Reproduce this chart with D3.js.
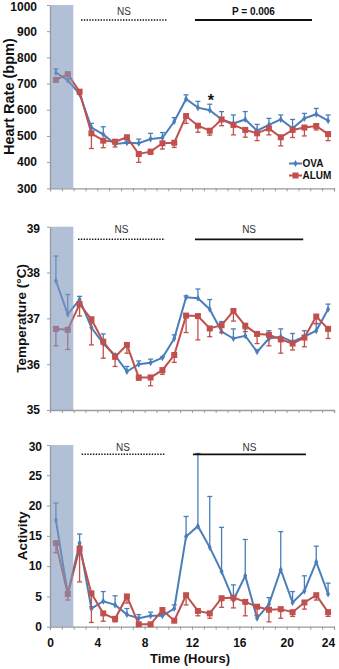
<!DOCTYPE html>
<html>
<head>
<meta charset="utf-8">
<script src="https://cdn.jsdelivr.net/npm/d3@7/dist/d3.min.js"></script>
<style>
body { margin: 0; background: #fff; }
svg { display: block; font-family: "Liberation Sans", Arial, sans-serif; }
</style>
</head>
<body>
<svg id="chart" width="339" height="669"></svg>
<script>
// time points (hours)
const hours = [0.5, 1.5, 2.5, 3.5, 4.5, 5.5, 6.5, 7.5, 8.5, 9.5, 10.5, 11.5,
               12.5, 13.5, 14.5, 15.5, 16.5, 17.5, 18.5, 19.5, 20.5, 21.5, 22.5, 23.5];
const hourTicks = [0, 1, 2, 3, 4, 5, 6, 7, 8, 9, 10, 11, 12, 13, 14, 15, 16, 17, 18, 19, 20, 21, 22, 23, 24];
const timeLabels = [0, 4, 8, 12, 16, 20, 24];
const seriesNames = ["OVA", "ALUM"];

// heart rate (bpm)
const ovaHR    = [742, 713, 660, 532, 506, 469, 474, 472, 488, 493, 555, 641, 608, 598, 563, 548, 563, 520, 542, 563, 529, 567, 583, 558];
const ovaHRErr = [14, 6, 5, 16, 29, 8, 6, 16, 22, 20, 15, 16, 24, 23, 30, 32, 30, 24, 25, 17, 34, 19, 22, 22];
const alumHR    = [714, 736, 669, 510, 482, 478, 495, 431, 440, 472, 474, 576, 539, 520, 563, 542, 523, 510, 529, 495, 523, 532, 538, 507];
const alumHRErr = [5, 4, 8, 58, 27, 20, 8, 32, 10, 22, 18, 28, 25, 17, 24, 38, 28, 28, 25, 33, 29, 32, 15, 25];
const hrTicks = [300, 400, 500, 600, 700, 800, 900, 1000];

// temperature (deg C)
const ovaTemp    = [37.82, 37.09, 37.41, 36.80, 36.45, 36.19, 35.84, 36.00, 36.03, 36.14, 36.56, 37.46,
                    37.44, 37.20, 36.71, 36.56, 36.62, 36.27, 36.56, 36.60, 36.49, 36.60, 36.73, 37.20];
const ovaTempErr = [0.54, 0.43, 0.07, 0.10, 0.21, 0.03, 0.11, 0.07, 0.08, 0.02, 0.08, 0.03,
                    0.20, 0.21, 0.22, 0.21, 0.15, 0.03, 0.17, 0.17, 0.18, 0.13, 0.15, 0.11];
const alumTemp    = [36.77, 36.75, 37.31, 36.98, 36.49, 36.16, 36.42, 35.71, 35.71, 35.87, 36.20, 37.06,
                     37.05, 36.78, 36.85, 37.16, 36.84, 36.66, 36.64, 36.54, 36.45, 36.58, 37.04, 36.77];
const alumTempErr = [0.37, 0.43, 0.26, 0.56, 0.36, 0.21, 0.18, 0.06, 0.18, 0.09, 0.16, 0.37,
                     0.52, 0.18, 0.16, 0.22, 0.13, 0.21, 0.24, 0.30, 0.14, 0.20, 0.15, 0.21];
const tempTicks = [35, 36, 37, 38, 39];

// activity
const ovaAct    = [17.6, 5.4, 13.8, 3.0, 4.2, 3.6, 2.0, 1.4, 1.8, 1.8, 3.0, 14.9, 16.6, 13.1, 9.1, 4.4, 8.4, 1.4, 3.7, 9.4, 4.0, 5.9, 10.7, 5.4];
const ovaActErr = [2.8, 0.3, 1.5, 0.3, 1.6, 1.5, 1.0, 0.6, 0.6, 0.2, 0.6, 3.3, 12.0, 8.4, 7.3, 2.5, 6.0, 0.4, 1.1, 6.3, 1.8, 2.5, 2.6, 1.8];
const alumAct    = [13.8, 5.4, 12.9, 5.5, 2.2, 1.3, 5.0, 0.4, 0.4, 2.75, 1.0, 5.2, 2.6, 2.2, 4.7, 4.8, 4.1, 3.3, 2.8, 2.9, 2.4, 4.0, 5.2, 2.4];
const alumActErr = [1.6, 1.0, 5.5, 4.8, 1.3, 0.5, 1.1, 0.3, 0.1, 0.55, 0.3, 1.6, 0.8, 0.8, 1.5, 1.7, 2.3, 1.4, 2.0, 1.5, 0.7, 1.1, 0.8, 0.7];
const actTicks = [0, 5, 10, 15, 20, 25, 30];

const blue = "#4a7ebb";
const red = "#c0504d";
const axisGray = "#9a9a9a";

const svg = d3.select("#chart");
const x = d3.scaleLinear().domain([0, 24]).range([50, 334]);

function drawPanel(cfg) {
    const y = d3.scaleLinear().domain(cfg.domain).range(cfg.range);
    const g = svg.append('g');
    const bottom = cfg.range[0];

    // x axis
    const xAxis = d3.axisBottom(x)
                    .tickValues(hourTicks)
                    .tickSize(3)
                    .tickPadding(9)
                    .tickFormat(d => (cfg.showTime && timeLabels.includes(d)) ? String(d) : "");
    const xg = g.append('g')
                .attr('transform', `translate(0,${bottom})`)
                .call(xAxis);
    xg.select('.domain').attr('stroke', axisGray).attr('stroke-width', 1.3);
    xg.selectAll('.tick line').attr('stroke', axisGray);
    xg.selectAll('.tick text')
      .attr('font-size', '12px')
      .attr('font-weight', 'bold')
      .attr('fill', '#111')
      .attr('dx', d => d === 24 ? -6 : 0);

    // y axis
    const yAxis = d3.axisLeft(y)
                    .tickValues(cfg.ticks)
                    .tickSize(3)
                    .tickSizeOuter(0)
                    .tickPadding(cfg.pad)
                    .tickFormat(d => String(d));
    const yg = g.append('g')
                .attr('transform', `translate(${x(0)},0)`)
                .call(yAxis);
    yg.select('.domain').attr('stroke', axisGray).attr('stroke-width', 1.3);
    yg.selectAll('.tick line').attr('stroke', axisGray);
    yg.selectAll('.tick text')
      .attr('font-size', '12px')
      .attr('font-weight', 'bold')
      .attr('fill', '#111')
      .attr('y', d => d === cfg.domain[1] ? 1.5 : 0);

    // y title
    g.append('text')
     .attr('transform', `translate(${cfg.titleX},${(cfg.range[0] + cfg.range[1]) / 2}) rotate(-90)`)
     .attr('text-anchor', 'middle')
     .attr('font-size', cfg.titleSize + 'px')
     .attr('font-weight', 'bold')
     .attr('fill', '#111')
     .text(cfg.title);

    const series = [
        {name: seriesNames[0], vals: cfg.ova, err: cfg.ovaErr, color: blue, dir: 1},
        {name: seriesNames[1], vals: cfg.alum, err: cfg.alumErr, color: red, dir: -1}
    ];

    const line = d3.line()
                   .x(d => x(d[0]))
                   .y(d => y(d[1]));

    series.forEach(s => {
        const pts = hours.map((h, i) => [h, s.vals[i], s.err[i]]);

        // error bars: OVA upward, ALUM downward
        const eb = g.append('g')
                    .attr('stroke', s.color)
                    .attr('stroke-width', 1.3);
        eb.selectAll('line.bar')
          .data(pts)
          .enter()
          .append('line')
          .attr('class', 'bar')
          .attr('x1', d => x(d[0]))
          .attr('x2', d => x(d[0]))
          .attr('y1', d => y(d[1]))
          .attr('y2', d => y(d[1] + s.dir * d[2]));
        eb.selectAll('line.cap')
          .data(pts)
          .enter()
          .append('line')
          .attr('class', 'cap')
          .attr('x1', d => x(d[0]) - 2.5)
          .attr('x2', d => x(d[0]) + 2.5)
          .attr('y1', d => y(d[1] + s.dir * d[2]))
          .attr('y2', d => y(d[1] + s.dir * d[2]));

        g.append('path')
         .datum(pts)
         .attr('d', line)
         .attr('fill', 'none')
         .attr('stroke', s.color)
         .attr('stroke-width', 2);

        if (s.dir > 0) {
            g.selectAll(null)
             .data(pts)
             .enter()
             .append('path')
             .attr('d', d3.symbol().type(d3.symbolDiamond).size(14))
             .attr('transform', d => `translate(${x(d[0])},${y(d[1])})`)
             .attr('fill', s.color);
        } else {
            g.selectAll(null)
             .data(pts)
             .enter()
             .append('rect')
             .attr('x', d => x(d[0]) - 3)
             .attr('y', d => y(d[1]) - 3)
             .attr('width', 6)
             .attr('height', 6)
             .attr('fill', s.color);
        }
    });

    // shaded period (0-2 h) sits over the data
    g.append('rect')
     .attr('x', x(0.06))
     .attr('y', cfg.range[1])
     .attr('width', x(1.97) - x(0.06))
     .attr('height', cfg.range[0] - cfg.range[1])
     .attr('fill', '#7f96bd')
     .attr('fill-opacity', 0.6);

    // significance bars
    const sy = cfg.range[1] + cfg.sigOffset;
    const sig = [
        {from: cfg.dotted[0], to: cfg.dotted[1], dash: '1.4,1.4', label: 'NS', bold: false},
        {from: cfg.solid[0], to: cfg.solid[1], dash: null, label: cfg.solidLabel, bold: cfg.solidLabel !== 'NS'}
    ];
    sig.forEach(s => {
        g.append('line')
         .attr('x1', x(s.from))
         .attr('x2', x(s.to))
         .attr('y1', sy)
         .attr('y2', sy)
         .attr('stroke', '#111')
         .attr('stroke-width', s.dash ? 1.6 : 1.8)
         .attr('stroke-dasharray', s.dash);
        g.append('text')
         .attr('x', x((s.from + s.to) / 2))
         .attr('y', sy - cfg.sigText)
         .attr('text-anchor', 'middle')
         .attr('font-size', '10px')
         .attr('font-weight', s.bold ? 'bold' : 'normal')
         .attr('fill', s.bold ? '#111' : '#333')
         .text(s.label);
    });

    return y;
}

// heart rate panel
const yHR = drawPanel({
    domain: [300, 1000], range: [188.3, 5], ticks: hrTicks, pad: 10,
    title: 'Heart Rate (bpm)', titleX: 13.5, titleSize: 14.5,
    ova: ovaHR, ovaErr: ovaHRErr, alum: alumHR, alumErr: alumHRErr,
    dotted: [2.62, 9.89], solid: [12.25, 22.14], solidLabel: 'P = 0.006',
    sigOffset: 15, sigText: 5
});

// asterisk above the 13.5 h point
svg.append('text')
   .attr('x', x(13.5) + 1)
   .attr('y', yHR(648) + 9)
   .attr('text-anchor', 'middle')
   .attr('font-size', '16px')
   .attr('font-weight', 'bold')
   .attr('fill', '#111')
   .text('*');

// legend
const legend = svg.append('g');
[[seriesNames[0], blue, 163.5], [seriesNames[1], red, 175.5]].forEach((l, i) => {
    legend.append('line')
          .attr('x1', 289).attr('x2', 302)
          .attr('y1', l[2]).attr('y2', l[2])
          .attr('stroke', l[1]).attr('stroke-width', 2);
    if (i === 0) {
        legend.append('path')
              .attr('d', d3.symbol().type(d3.symbolDiamond).size(14))
              .attr('transform', `translate(295.5,${l[2]})`)
              .attr('fill', l[1]);
    } else {
        legend.append('rect')
              .attr('x', 292.5).attr('y', l[2] - 3)
              .attr('width', 6).attr('height', 6)
              .attr('fill', l[1]);
    }
    legend.append('text')
          .attr('x', 302.5)
          .attr('y', l[2] + 3.6)
          .attr('font-size', '10px')
          .attr('font-weight', 'bold')
          .attr('fill', '#111')
          .text(l[0]);
});

// temperature panel
drawPanel({
    domain: [35, 39], range: [410, 226.7], ticks: tempTicks, pad: 7,
    title: 'Temperature (°C)', titleX: 25.5, titleSize: 13.5,
    ova: ovaTemp, ovaErr: ovaTempErr, alum: alumTemp, alumErr: alumTempErr,
    dotted: [2.37, 9.72], solid: [12.25, 21.4], solidLabel: 'NS',
    sigOffset: 12.6, sigText: 6
});

// activity panel
drawPanel({
    domain: [0, 30], range: [626.7, 445], ticks: actTicks, pad: 5,
    title: 'Activity', titleX: 26.5, titleSize: 13.5,
    ova: ovaAct, ovaErr: ovaActErr, alum: alumAct, alumErr: alumActErr,
    dotted: [2.68, 9.66], solid: [12.08, 21.63], solidLabel: 'NS',
    sigOffset: 9.3, sigText: 3,
    showTime: true
});

svg.append('text')
   .attr('x', 190)
   .attr('y', 663)
   .attr('text-anchor', 'middle')
   .attr('font-size', '13px')
   .attr('font-weight', 'bold')
   .attr('fill', '#111')
   .text('Time (Hours)');
</script>
</body>
</html>
